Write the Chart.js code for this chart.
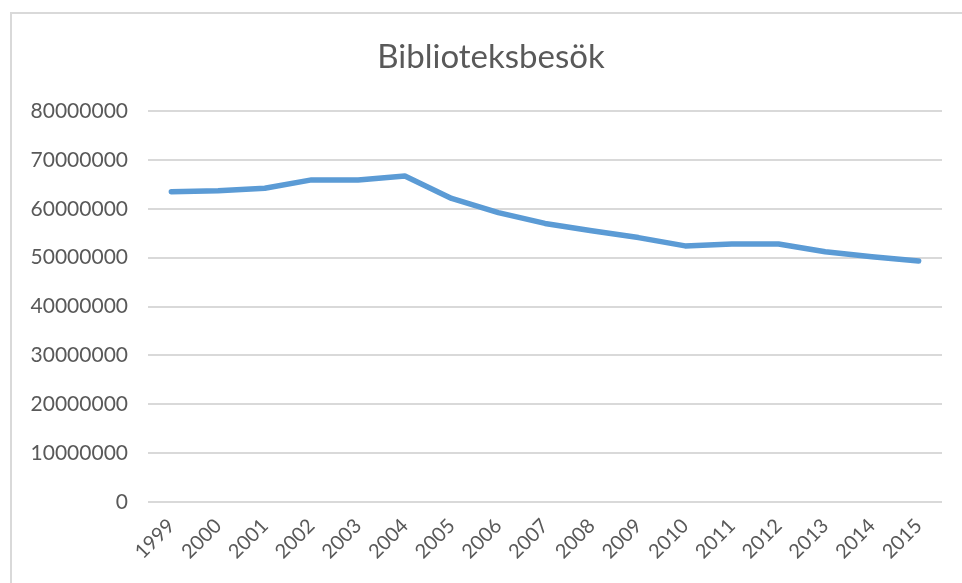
<!DOCTYPE html>
<html>
<head>
<meta charset="utf-8">
<script src="https://cdn.jsdelivr.net/npm/chart.js@4.4.0/dist/chart.umd.min.js"></script>
<style>
  body { margin: 0; background: #fff; }
  #frame { position: absolute; left: 10px; top: 12px; width: 1000px; height: 600px; border: 2px solid #d9d9d9; box-sizing: border-box; }
  #wrap { position: absolute; left: 0; top: 0; width: 962px; height: 583px; }
</style>
</head>
<body>
<div id="frame"></div>
<div id="wrap"><canvas id="visitsChart"></canvas></div>
<script>
const years = ["1999", "2000", "2001", "2002", "2003", "2004", "2005", "2006", "2007",
               "2008", "2009", "2010", "2011", "2012", "2013", "2014", "2015"];
const visits = [63500000, 63700000, 64200000, 65900000, 65900000, 66700000, 62100000, 59200000, 57000000,
                55500000, 54100000, 52400000, 52800000, 52800000, 51200000, 50200000, 49300000];
const chartTitle = "Biblioteksbesök";

const grey = "#595959";
const ctx = document.getElementById("visitsChart").getContext("2d");

// title sits a bit right of the canvas centre, like the Excel original
const titlePlugin = {
    id: "offsetTitle",
    afterDraw(chart) {
        const c = chart.ctx;
        c.save();
        c.fillStyle = grey;
        c.font = "33px Lato";
        c.textAlign = "center";
        c.textBaseline = "middle";
        c.fillText(chartTitle, 491, 57);
        c.restore();
    }
};

new Chart(ctx, {
    type: "line",
    data: {
        labels: years,
        datasets: [{
            label: chartTitle,
            data: visits,
            borderColor: "#5b9bd5",
            borderWidth: 5.5,
            borderCapStyle: "round",
            borderJoinStyle: "round",
            pointRadius: 0,
            tension: 0,
            fill: false
        }]
    },
    options: {
        responsive: true,
        maintainAspectRatio: false,
        animation: false,
        layout: { padding: { left: 0, right: 20, top: 111, bottom: 0 } },
        plugins: {
            legend: { display: false },
            tooltip: { enabled: false },
            title: { display: false }
        },
        scales: {
            x: {
                offset: true,
                grid: { display: false },
                border: { display: false },
                ticks: {
                    color: grey,
                    font: { family: "Lato", size: 20 },
                    maxRotation: 45,
                    minRotation: 45,
                    padding: 4
                },
                afterFit: scale => { scale.height = 81; }
            },
            y: {
                min: 0,
                max: 80000000,
                grid: { color: "#d9d9d9", lineWidth: 2, drawTicks: false },
                border: { display: false },
                ticks: {
                    stepSize: 10000000,
                    color: grey,
                    font: { family: "Lato", size: 21 },
                    padding: 20,
                    callback: v => String(v)
                },
                afterFit: scale => { scale.width = 148; }
            }
        }
    },
    plugins: [titlePlugin]
});
</script>
</body>
</html>
